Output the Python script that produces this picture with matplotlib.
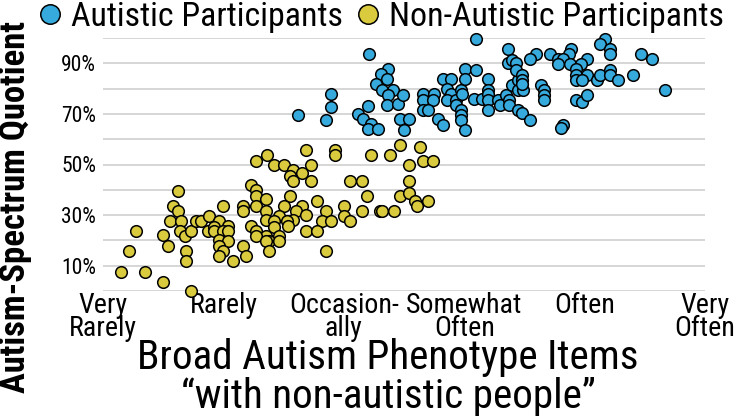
import numpy as np
import matplotlib
matplotlib.use("Agg")
import matplotlib.pyplot as plt
from matplotlib import font_manager
from matplotlib.lines import Line2D

# ---------------- data ----------------
categories = ["Very\nRarely", "Rarely", "Occasion-\nally", "Somewhat\nOften", "Often", "Very\nOften"]
cat_pos = [1, 2, 3, 4, 5, 6]
y_labels = ["10%", "30%", "50%", "70%", "90%"]
y_label_pos = [10, 30, 50, 70, 90]

non_autistic = [
    (1.62, 39.6), (1.58, 33.7), (1.62, 31.7), (1.27, 23.8), (1.56, 27.8), (1.65, 27.8),
    (1.64, 23.8), (1.68, 21.7), (1.73, 23.8), (1.50, 22.1), (1.54, 17.8), (1.22, 15.8),
    (1.69, 15.8), (1.69, 11.7), (1.15, 7.6), (1.35, 7.6), (1.50, 3.7), (1.73, 0.0),
    (1.77, 27.8), (1.81, 27.8), (1.88, 29.8), (1.96, 27.8), (1.87, 23.8), (1.92, 25.4),
    (1.92, 23.8), (2.00, 33.7), (2.04, 25.7), (2.00, 23.8), (2.04, 23.8), (1.96, 20.2),
    (2.04, 19.8), (1.96, 17.8), (2.00, 15.8), (1.96, 13.8), (2.08, 11.7),
    (2.69, 55.7), (2.93, 55.7), (2.93, 53.8), (2.36, 53.8), (2.27, 51.5), (3.23, 53.8),
    (2.42, 49.8), (2.50, 49.8), (2.58, 47.8), (2.65, 46.5), (2.73, 49.8), (2.55, 45.6),
    (2.58, 43.6), (2.73, 43.6), (3.05, 43.6), (3.15, 43.6), (2.23, 41.9), (2.27, 39.9),
    (2.27, 37.7), (2.35, 36.2), (2.55, 37.7), (3.19, 37.7), (2.78, 35.7), (2.27, 33.7),
    (2.50, 33.7), (2.65, 33.7), (3.00, 33.7), (2.16, 33.7), (2.16, 31.7), (2.35, 31.7),
    (2.60, 31.7), (2.85, 31.7), (3.15, 31.7), (3.30, 31.7), (2.69, 30.0), (2.46, 29.6),
    (2.35, 28.1), (2.42, 27.8), (2.58, 28.1), (2.82, 27.8), (2.89, 27.8), (3.00, 29.6),
    (3.05, 27.8), (2.53, 27.8), (2.23, 25.7), (2.42, 25.4), (2.54, 25.7), (2.27, 23.8),
    (2.35, 21.7), (2.46, 21.7), (2.27, 21.7), (2.38, 19.9), (2.46, 19.9), (2.35, 19.9),
    (2.69, 23.8), (2.78, 23.8), (2.16, 17.8), (2.19, 13.8), (2.38, 15.7), (2.85, 15.7),
    (3.47, 57.7), (3.63, 56.8), (3.38, 53.8), (3.54, 49.8), (3.66, 51.5), (3.74, 51.5),
    (3.54, 43.6), (3.47, 37.7), (3.54, 38.6), (3.59, 35.7), (3.61, 33.7), (3.70, 35.7),
    (3.32, 31.7), (3.42, 31.7),
]

autistic = [
    (2.62, 69.6), (2.89, 77.9), (2.89, 72.7), (2.85, 67.6), (3.21, 93.7), (3.37, 87.7),
    (3.31, 85.8), (3.36, 83.6), (3.27, 81.8), (3.32, 79.6), (3.41, 79.4), (3.37, 77.5),
    (3.20, 73.3), (3.36, 73.7), (3.45, 73.9), (3.49, 77.5), (3.12, 69.8), (3.16, 67.8),
    (3.23, 66.0), (3.20, 63.9), (3.28, 63.9), (3.47, 67.8), (3.54, 67.8), (3.50, 63.8),
    (3.66, 77.7), (3.75, 77.7), (3.66, 75.5), (3.74, 75.5), (3.66, 71.7), (3.70, 71.7),
    (3.78, 67.8), (3.82, 65.6), (3.82, 83.6), (3.89, 83.6), (3.86, 79.8), (3.89, 77.7),
    (3.86, 75.6), (3.93, 75.5), (3.97, 79.6), (3.98, 77.7), (3.93, 73.7), (3.97, 71.7),
    (3.97, 69.6), (3.97, 67.6), (4.01, 63.8), (4.01, 87.7), (4.01, 83.6), (4.10, 87.5),
    (4.10, 99.6), (4.08, 75.7), (4.15, 75.7), (4.20, 83.6), (4.20, 79.6), (4.20, 77.7),
    (4.20, 75.5), (4.20, 71.7), (4.28, 75.6), (4.30, 73.6), (4.35, 77.6), (4.37, 75.6),
    (4.37, 73.6), (4.40, 81.5), (4.45, 83.5), (4.45, 79.6), (4.45, 71.6), (4.36, 95.8),
    (4.36, 90.1), (4.40, 91.4), (4.43, 90.1), (4.43, 87.5), (4.48, 85.5), (4.48, 83.5),
    (4.49, 79.6), (4.48, 81.8), (4.48, 70.4), (4.55, 67.7), (5.17, 99.7), (5.13, 97.7),
    (5.21, 95.8), (5.21, 93.7), (4.89, 95.8), (4.87, 93.7), (4.71, 93.7), (4.60, 93.7),
    (4.55, 91.8), (5.47, 93.7), (5.56, 91.8), (4.78, 91.8), (4.82, 91.8), (4.78, 89.7),
    (4.88, 89.7), (5.02, 91.8), (4.97, 89.7), (4.93, 87.9), (4.64, 81.5), (4.66, 79.6),
    (4.66, 77.6), (4.66, 75.6), (4.82, 65.7), (4.80, 64.4), (4.93, 85.5), (5.02, 85.5),
    (4.93, 83.5), (4.98, 83.5), (5.10, 83.5), (5.13, 85.5), (5.21, 87.5), (5.21, 85.5),
    (5.28, 83.5), (5.40, 85.5), (5.67, 79.6), (4.93, 75.6), (4.98, 74.7), (5.02, 77.6),
]

# ---------------- style ----------------
names = {f.name for f in font_manager.fontManager.ttflist}
if "Roboto Condensed" in names:
    FAM, K = "Roboto Condensed", 1.0
else:
    FAM, K = "Liberation Sans", 0.87
plt.rcParams["font.family"] = [FAM, "DejaVu Sans"]

BLUE = "#37AADD"
YELLOW = "#DACA3E"
GRID = "#CFCFCF"

W, H = 737, 417
fig = plt.figure(figsize=(W / 100, H / 100), dpi=100)
ax = fig.add_axes([103 / W, 1 - 291 / H, (705 - 103) / W, (291 - 38) / H])

ax.set_xlim(1, 6)
ax.set_ylim(0, 100)

ax.set_yticks(y_label_pos)
ax.set_yticklabels(y_labels, fontsize=15.5 * K)
ax.set_yticks(np.arange(0, 101, 10), minor=True)
ax.set_xticks(cat_pos)
ax.set_xticklabels(categories, fontsize=20.2 * K, linespacing=0.78, va="top")
ax.tick_params(axis="both", which="both", length=0)
ax.tick_params(axis="y", pad=5)
ax.tick_params(axis="x", pad=1)
ax.grid(axis="y", which="both", color=GRID, lw=1.2)
ax.set_axisbelow(True)
for s in ax.spines.values():
    s.set_visible(False)

na = np.array(non_autistic)
au = np.array(autistic)
ax.scatter(na[:, 0], na[:, 1], s=70, c=YELLOW, edgecolors="black", linewidths=1.1,
           zorder=3, clip_on=False)
ax.scatter(au[:, 0], au[:, 1], s=70, c=BLUE, edgecolors="black", linewidths=1.1,
           zorder=3, clip_on=False)

handles = [
    Line2D([], [], ls="none", marker="o", markersize=14, markerfacecolor=BLUE,
           markeredgecolor="black", markeredgewidth=1.1, label="Autistic Participants"),
    Line2D([], [], ls="none", marker="o", markersize=14, markerfacecolor=YELLOW,
           markeredgecolor="black", markeredgewidth=1.1, label="Non-Autistic Participants"),
]
fig.legend(handles=handles, loc="center left", bbox_to_anchor=(40 / W, 1 - 17 / H),
           ncol=2, frameon=False, fontsize=24.4 * K, handlelength=0.59,
           handletextpad=0.33, columnspacing=0.44, borderpad=0, borderaxespad=0)

fig.text(16 / W, 1 - 207 / H, "Autism-Spectrum Quotient", rotation=90,
         ha="center", va="center", fontsize=25 * K, fontweight="bold")
fig.text(388 / W, 1 - 377 / H,
         "Broad Autism Phenotype Items\n\u201cwith non-autistic people\u201d",
         ha="center", va="center", fontsize=29.6 * K, linespacing=1.0)

fig.savefig("out.png", dpi=100)
